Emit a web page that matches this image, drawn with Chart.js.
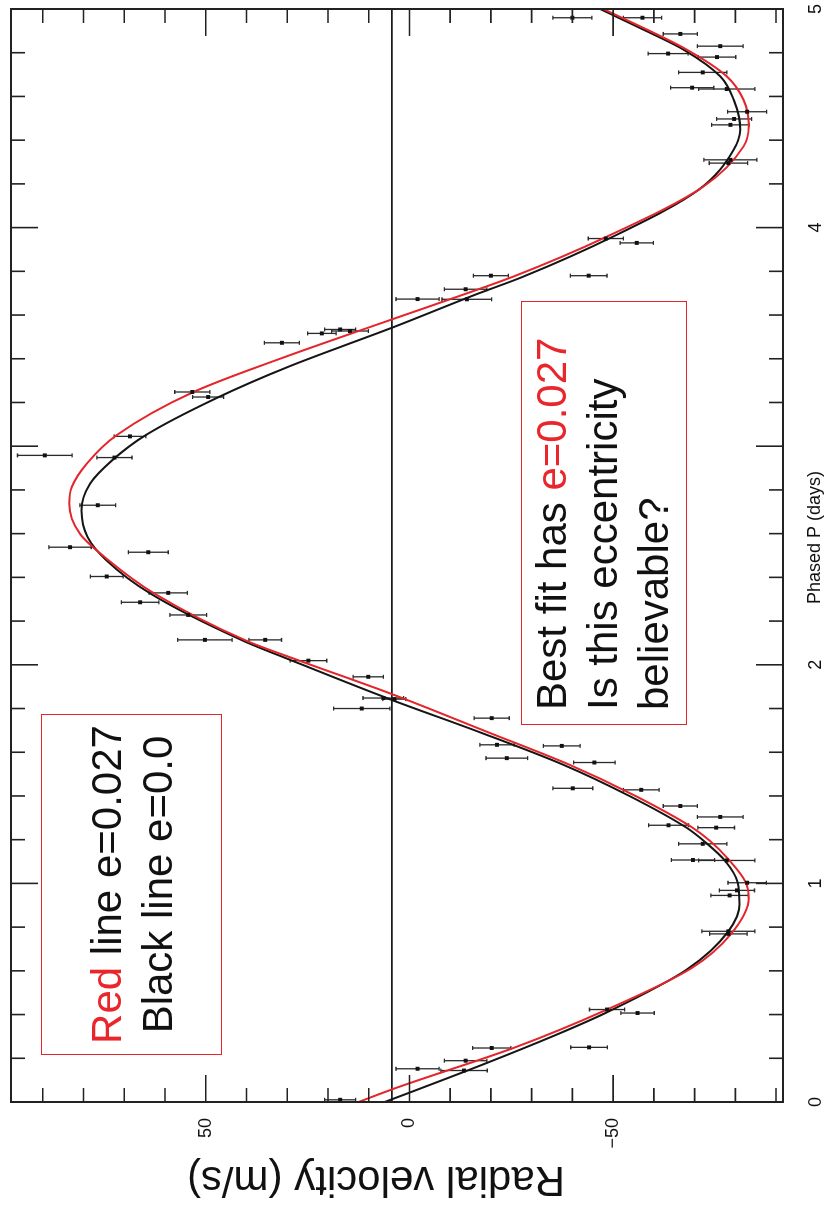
<!DOCTYPE html>
<html>
<head>
<meta charset="utf-8">
<script src="https://cdn.jsdelivr.net/npm/chart.js@4.4.1/dist/chart.umd.min.js"></script>
<style>
    html, body {
        margin: 0;
        padding: 0;
        background: #fff;
    }
    #page {
        position: relative;
        width: 828px;
        height: 1210px;
        overflow: hidden;
        background: #fff;
    }
    /* the figure is laid out upright, then turned a quarter turn to the left */
    #rot {
        position: absolute;
        left: 0;
        top: 0;
        width: 1210px;
        height: 828px;
        transform-origin: 0 0;
        transform: translate(0, 1210px) rotate(-90deg);
    }
    #rv {
        position: absolute;
        left: 0;
        top: 0;
    }
    .note {
        position: absolute;
        box-sizing: border-box;
        border: 1.5px solid #e3262b;
        font-family: 'Liberation Sans', Arial, sans-serif;
        font-size: 42px;
        line-height: 51px;
        color: #111;
        white-space: nowrap;
    }
    .red { color: #e8262b; }
    #note1 {
        left: 155px;
        top: 41px;
        width: 341px;
        height: 181px;
        text-align: center;
        padding-top: 39px;
    }
    #note2 {
        left: 485px;
        top: 521px;
        width: 424px;
        height: 166px;
        padding-left: 14px;
        padding-top: 4px;
    }
</style>
</head>
<body>
<div id="page">
    <div id="rot">
        <canvas id="rv" width="1210" height="828"></canvas>
        <div class="note" id="note1"><span class="red">Red</span> line e=0.027<br>Black line e=0.0</div>
        <div class="note" id="note2">Best fit has <span class="red">e=0.027</span><br>Is this eccentricity<br>believable?</div>
    </div>
</div>

<script>
// Measured radial velocities (phase in days, velocity and error in m/s)
const phase = [0.01, 0.144, 0.152, 0.189, 0.247, 0.25, 0.407, 0.423, 0.769, 0.781,
    0.945, 0.968, 1.003, 1.105, 1.107, 1.181, 1.255, 1.266, 1.304, 1.354,
    1.428, 1.435, 1.553, 1.573, 1.629, 1.634, 1.756, 1.80, 1.843, 1.848,
    1.945, 2.019, 2.114, 2.114, 2.228, 2.286, 2.329, 2.404, 2.515, 2.538,
    2.73, 2.948, 2.958, 3.045, 3.225, 3.248, 3.473, 3.516, 3.527, 3.534,
    3.672, 3.673, 3.718, 3.78, 3.78, 3.93, 3.95, 4.295, 4.31, 4.47,
    4.497, 4.53, 4.634, 4.64, 4.71, 4.78, 4.796, 4.83, 4.886, 4.96, 4.96];
const velocity = [17.0, -13.4, -2.0, -13.8, -20.2, -44.1, -56.0, -48.5, -78.3, -78.3,
    -78.6, -80.4, -82.9, -77.9, -69.6, -72.0, -75.3, -63.6, -76.3, -66.5,
    -56.9, -40.1, -45.4, -23.9, -37.4, -21.5, -20.2, 11.7, 3.7, 6.4,
    10.1, 24.8, 50.2, 35.4, 54.3, 66.1, 59.2, 74.3, 64.1, 83.3,
    76.5, 72.4, 89.5, 68.6, 49.4, 53.3, 31.3, 21.5, 14.6, 17.0,
    -14.1, -2.0, -13.8, -20.0, -44.0, -55.8, -48.2, -78.3, -78.8, -78.8,
    -79.7, -82.9, -77.9, -69.4, -72.0, -75.5, -63.5, -76.3, -66.5, -57.2, -40.0];
const velErr = [3.8, 5.7, 5.3, 5.2, 4.7, 4.5, 4.1, 4.3, 4.6, 6.5,
    4.6, 4.3, 4.7, 6.9, 5.3, 5.9, 4.5, 4.9, 5.6, 4.2,
    4.4, 4.9, 5.1, 5.1, 4.5, 4.2, 4.3, 6.9, 2.8, 5.0,
    3.7, 4.5, 6.7, 4.0, 4.5, 4.6, 4.7, 4.0, 4.9, 5.2,
    4.4, 4.3, 6.7, 3.9, 3.8, 4.3, 4.3, 3.5, 4.5, 3.8,
    6.1, 5.3, 5.2, 4.3, 4.5, 4.1, 4.3, 4.7, 6.5, 4.6,
    4.3, 4.8, 6.9, 5.3, 5.9, 4.6, 4.9, 5.6, 4.2, 4.7, 4.8];

// Circular orbit fit (black)
const blackPhase = [0, 0.04, 0.186, 0.323, 0.415, 0.606, 0.781, 0.904, 1.003, 1.105,
    1.186, 1.255, 1.40, 1.545, 1.69, 1.839, 2.019, 2.11, 2.325, 2.48,
    2.584, 2.706, 2.829, 2.935, 3.05, 3.218, 3.363, 3.544, 3.692, 3.776,
    3.959, 4.173, 4.356, 4.448, 4.585, 4.692, 4.814, 4.898, 5.0];
const blackVel = [6.1, 0.4, -20.0, -38.0, -49.0, -68.1, -78.3, -81.0, -80.6, -77.4,
    -72.8, -68.0, -54.0, -37.5, -17.5, 4.3, 28.8, 40.8, 63.5, 74.5,
    79.0, 80.5, 78.4, 73.0, 64.8, 47.6, 29.8, 4.0, -16.0, -28.0,
    -50.0, -71.0, -79.6, -81.2, -79.6, -76.3, -67.3, -58.3, -46.8];

// Best fit with e=0.027 (red)
const redPhase = [0, 0.071, 0.247, 0.423, 0.613, 0.766, 0.934, 1.01, 1.11, 1.194,
    1.255, 1.40, 1.545, 1.69, 1.866, 2.019, 2.11, 2.325, 2.485, 2.6,
    2.737, 2.813, 2.92, 3.05, 3.248, 3.406, 3.58, 3.692, 3.776, 3.959,
    4.188, 4.371, 4.463, 4.585, 4.692, 4.814, 5.0];
const redVel = [12.5, 2.3, -25.5, -48.5, -69.3, -78.8, -83.3, -82.4, -78.3, -73.8,
    -69.5, -55.5, -39.0, -19.5, 4.3, 27.0, 40.0, 62.5, 74.3, 80.9,
    83.5, 82.9, 79.2, 71.9, 53.0, 30.9, 4.3, -13.0, -25.5, -48.5,
    -72.2, -82.0, -83.3, -82.0, -77.9, -68.1, -47.6];

// Axis ticks
const phaseTicks = [0, 1, 2, 3, 4, 5];
const phaseHiddenLabels = [3];
const velTicks = [-50, 0, 50];
const refLine = 4.3;

const RED = '#e5252a';
const FONT = "'Liberation Sans', Arial, sans-serif";

// zero line, error bars, frame and inward ticks
const framePlugin = {
    id: 'framePlugin',
    beforeDatasetsDraw(chart) {
        const { ctx, chartArea: a, scales: { x, y } } = chart;
        ctx.save();
        ctx.strokeStyle = '#1a1a1a';
        ctx.lineWidth = 1.6;
        const yl = y.getPixelForValue(refLine);
        ctx.beginPath();
        ctx.moveTo(a.left, yl);
        ctx.lineTo(a.right, yl);
        ctx.stroke();

        ctx.lineWidth = 1.3;
        ctx.strokeStyle = '#2a2a2a';
        phase.forEach((p, i) => {
            const px = x.getPixelForValue(p);
            const top = y.getPixelForValue(velocity[i] + velErr[i]);
            const bot = y.getPixelForValue(velocity[i] - velErr[i]);
            ctx.beginPath();
            ctx.moveTo(px, top);
            ctx.lineTo(px, bot);
            ctx.moveTo(px - 2, top);
            ctx.lineTo(px + 2, top);
            ctx.moveTo(px - 2, bot);
            ctx.lineTo(px + 2, bot);
            ctx.stroke();
        });
        ctx.restore();
    },
    afterDatasetsDraw(chart) {
        const { ctx, chartArea: a, scales: { x, y } } = chart;
        ctx.save();
        ctx.strokeStyle = '#222';
        ctx.lineWidth = 2;
        ctx.strokeRect(a.left, a.top, a.right - a.left, a.bottom - a.top);

        ctx.lineWidth = 1.6;
        ctx.beginPath();
        for (let i = 0; i <= 25; i++) {
            const px = x.getPixelForValue(i * 0.2);
            const len = i % 5 === 0 ? 27 : 14;
            ctx.moveTo(px, a.bottom);
            ctx.lineTo(px, a.bottom - len);
            ctx.moveTo(px, a.top);
            ctx.lineTo(px, a.top + len);
        }
        for (let v = -90; v <= 90; v += 10) {
            const py = y.getPixelForValue(v);
            const len = v % 50 === 0 ? 27 : 14;
            ctx.moveTo(a.left, py);
            ctx.lineTo(a.left + len, py);
            ctx.moveTo(a.right, py);
            ctx.lineTo(a.right - len, py);
        }
        ctx.stroke();
        ctx.restore();
    }
};

function toPoints(xs, ys) {
    return xs.map((p, i) => ({ x: p, y: ys[i] }));
}

const ctx = document.getElementById('rv').getContext('2d');

new Chart(ctx, {
    type: 'scatter',
    data: {
        datasets: [
            {
                label: 'Data',
                data: toPoints(phase, velocity),
                pointStyle: 'rect',
                pointRadius: 2.8,
                backgroundColor: '#111',
                borderColor: '#111',
                borderWidth: 0
            },
            {
                label: 'e=0.027',
                data: toPoints(redPhase, redVel),
                showLine: true,
                borderColor: RED,
                borderWidth: 2,
                pointRadius: 0,
                cubicInterpolationMode: 'monotone'
            },
            {
                label: 'e=0.0',
                data: toPoints(blackPhase, blackVel),
                showLine: true,
                borderColor: '#151515',
                borderWidth: 2,
                pointRadius: 0,
                cubicInterpolationMode: 'monotone'
            }
        ]
    },
    options: {
        responsive: false,
        animation: false,
        devicePixelRatio: 1,
        layout: {
            padding: { top: 11, right: 9, left: 0, bottom: 0 }
        },
        plugins: {
            legend: { display: false },
            tooltip: { enabled: false }
        },
        scales: {
            x: {
                type: 'linear',
                min: 0,
                max: 5,
                afterBuildTicks: scale => {
                    scale.ticks = phaseTicks.map(v => ({ value: v }));
                },
                afterFit: scale => {
                    scale.height = 45;
                    scale.paddingLeft = 0;
                    scale.paddingRight = 0;
                },
                grid: { display: false, drawTicks: false },
                border: { display: false },
                ticks: {
                    autoSkip: false,
                    maxRotation: 0,
                    padding: 22,
                    color: '#111',
                    font: { family: FONT, size: 18 },
                    callback: v => phaseHiddenLabels.includes(v) ? '' : v
                },
                title: {
                    display: true,
                    // leading spaces nudge the centred title towards phase 2.6
                    text: '\u2002\u2002\u2002\u2002Phased P (days)',
                    color: '#111',
                    padding: { top: 0, bottom: 2 },
                    font: { family: FONT, size: 18 }
                }
            },
            y: {
                type: 'linear',
                min: -91.7,
                max: 97.8,
                afterBuildTicks: scale => {
                    scale.ticks = velTicks.map(v => ({ value: v }));
                },
                afterFit: scale => {
                    scale.width = 108;
                    scale.paddingTop = 0;
                    scale.paddingBottom = 0;
                },
                grid: { display: false, drawTicks: false },
                border: { display: false },
                ticks: {
                    autoSkip: false,
                    padding: 16,
                    color: '#111',
                    font: { family: FONT, size: 18 },
                    callback: v => v < 0 ? '\u2212' + Math.abs(v) : v
                },
                title: {
                    display: true,
                    text: '\u2002\u2002Radial velocity (m/s)',
                    color: '#111',
                    padding: { top: 6, bottom: 0 },
                    font: { family: FONT, size: 42 }
                }
            }
        }
    },
    plugins: [framePlugin]
});
</script>
</body>
</html>
